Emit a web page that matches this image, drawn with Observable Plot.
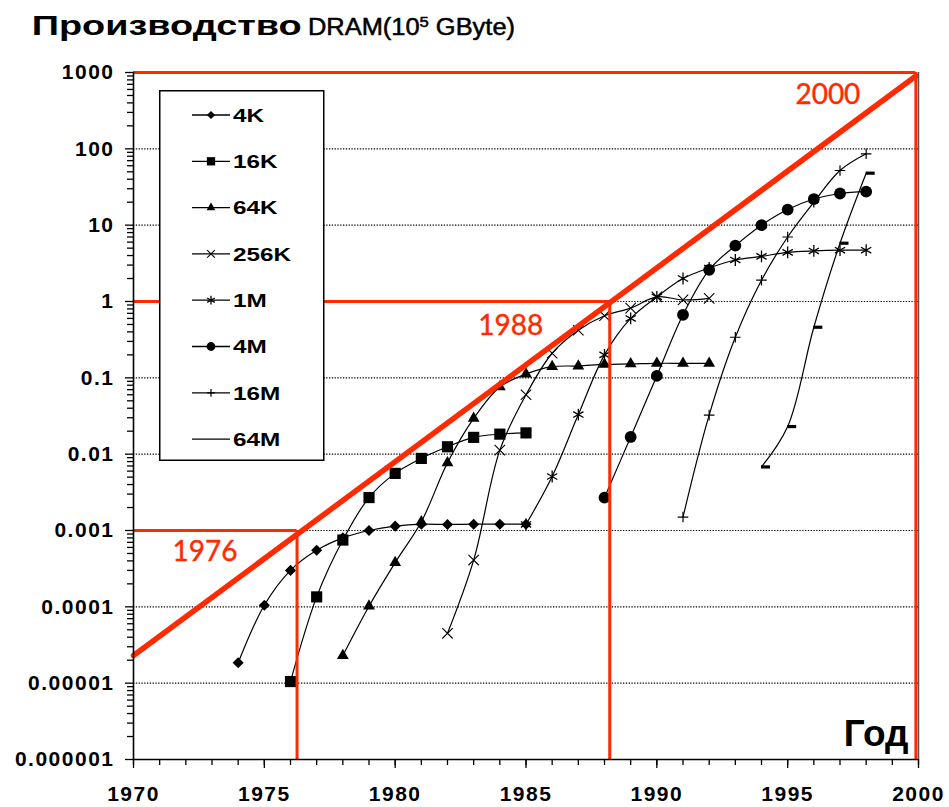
<!DOCTYPE html>
<html><head><meta charset="utf-8">
<script src="https://cdn.jsdelivr.net/npm/d3@7"></script>
<script src="https://cdn.jsdelivr.net/npm/@observablehq/plot@0.6"></script>
<style>
body{margin:0;background:#fff;}
#wrap{position:relative;width:949px;height:807px;overflow:hidden;background:#fff;}
#title{position:absolute;left:0;top:0;}
#chart{position:absolute;left:0;top:48px;}
#legend{position:absolute;left:159px;top:90px;}
#chart g[aria-label="x-axis tick label"], #chart g[aria-label="y-axis tick label"]{letter-spacing:1.5px;}
</style>
</head><body>
<div id="wrap">
<svg id="title" width="949" height="48"></svg>
<div id="chart"></div>
<svg id="legend" width="166" height="372"></svg>
</div>
<script>
// ---- data ----
const series = ["4K","16K","64K","256K","1M","4M","16M","64M"];
const years4K = [1974,1975,1976,1977,1978,1979,1980,1981,1982,1983,1984,1985];
const values4K = [1.85e-5,1.05e-4,3.0e-4,5.5e-4,8.0e-4,1.0e-3,1.14e-3,1.21e-3,1.2e-3,1.21e-3,1.21e-3,1.21e-3];
const years16K = [1976,1977,1978,1979,1980,1981,1982,1983,1984,1985];
const values16K = [1.05e-5,1.35e-4,7.5e-4,2.7e-3,5.6e-3,8.8e-3,0.0125,0.0166,0.0183,0.019];
const years64K = [1978,1979,1980,1981,1982,1983,1984,1985,1986,1987,1988,1989,1990,1991,1992];
const values64K = [2.3e-5,1.02e-4,3.8e-4,1.3e-3,7.7e-3,0.0294,0.076,0.112,0.14,0.143,0.15,0.152,0.155,0.155,0.155];
const years256K = [1982,1983,1984,1985,1986,1987,1988,1989,1990,1991,1992];
const values256K = [4.5e-5,4.1e-4,0.0113,0.06,0.21,0.42,0.65,0.82,1.15,1.05,1.1];
const years1M = [1985,1986,1987,1988,1989,1990,1991,1992,1993,1994,1995,1996,1997,1998];
const values1M = [1.2e-3,5.1e-3,0.033,0.2,0.6,1.15,2.0,2.75,3.5,3.9,4.4,4.6,4.7,4.7];
const years4M = [1988,1989,1990,1991,1992,1993,1994,1995,1996,1997,1998];
const values4M = [2.7e-3,0.0168,0.106,0.67,2.6,5.4,10,16,22,26,27.5];
const years16M = [1991,1992,1993,1994,1995,1996,1997,1998];
const values16M = [1.5e-3,0.0325,0.34,1.9,7.0,20,52,86];
const years64M = [1994,1995,1996,1997,1998];
const values64M = [6.8e-3,0.023,0.46,5.8,48];

const milestoneYears = [1976.25, 1988.2, 1999.9];
const milestoneValues = [0.001, 1, 1000];
const milestoneLabels = ["1976", "1988", "2000"];
const trendYears = [1970, 1999.9];
const trendValues = [2.3e-5, 900];

const yTickValues = [1e-6,1e-5,1e-4,1e-3,1e-2,1e-1,1,10,100,1000];
const yTickLabels = ["0.000001","0.00001","0.0001","0.001","0.01","0.1","1","10","100","1000"];
const xTickYears = d3.range(1970, 2001, 5);
const titleMain = "Производство";
const titleUnit = "DRAM(10";
const titleExp = "5";
const titleUnitEnd = " GByte)";
const xAxisTitle = "Год";

// ---- build table ----
const seriesYears = {"4K":years4K,"16K":years16K,"64K":years64K,"256K":years256K,"1M":years1M,"4M":years4M,"16M":years16M,"64M":years64M};
const seriesValues = {"4K":values4K,"16K":values16K,"64K":values64K,"256K":values256K,"1M":values1M,"4M":values4M,"16M":values16M,"64M":values64M};
const rows = [];
series.forEach(s => seriesYears[s].forEach((y, i) => rows.push({series: s, year: y, value: seriesValues[s][i]})));
const milestones = milestoneYears.map((y, i) => ({year: y, value: milestoneValues[i], label: milestoneLabels[i]}));
const trend = trendYears.map((y, i) => ({year: y, value: trendValues[i]}));

// ---- styles ----
const RED = "#ff2a00";
const dash = {draw(ctx, size) { ctx.moveTo(-0.5, -1.6); ctx.lineTo(8.5, -1.6); ctx.lineTo(8.5, 1.6); ctx.lineTo(-0.5, 1.6); ctx.closePath(); }};
const markerStyle = {
  "4K":  {symbol: "diamond2", r: 5.0, fill: "#000", stroke: "none"},
  "16K": {symbol: "square", r: 6.3, fill: "#000", stroke: "none"},
  "64K": {symbol: "triangle", r: 4.4, fill: "#000", stroke: "none"},
  "256K":{symbol: "times", r: 4.8, fill: "none", stroke: "#000", strokeWidth: 1.1},
  "1M":  {symbol: "asterisk", r: 5.6, fill: "none", stroke: "#000", strokeWidth: 1.3},
  "4M":  {symbol: "circle", r: 5.9, fill: "#000", stroke: "none"},
  "16M": {symbol: "plus", r: 3.5, fill: "none", stroke: "#000", strokeWidth: 1.2},
  "64M": {symbol: dash, r: 4, fill: "#000", stroke: "none"}
};
const legendSym = {"4K": d3.symbolDiamond2, "16K": d3.symbolSquare, "64K": d3.symbolTriangle, "256K": d3.symbolTimes, "1M": d3.symbolAsterisk, "4M": d3.symbolCircle, "16M": d3.symbolPlus, "64M": null};

const gridValues = yTickValues.slice(1, -1);
const yMinor = [];
yTickValues.slice(0, -1).forEach(d => { for (let k = 2; k <= 9; k++) yMinor.push(d * k); });
const labelOffsets = [[-92, 22], [-99, 25], [-88, 23]];

const dots = series.map(s => {
  const st = markerStyle[s];
  return Plot.dot(rows.filter(r => r.series === s), {x: "year", y: "value", symbol: st.symbol, r: st.r, fill: st.fill, stroke: st.stroke, strokeWidth: st.strokeWidth || 1});
});

const milestoneText = milestones.map((m, i) => Plot.text([m], {x: "year", y: "value", text: "label", dx: labelOffsets[i][0], dy: labelOffsets[i][1], fill: RED, stroke: RED, strokeWidth: 0.4, fontFamily: "Lato, 'Open Sans', sans-serif", fontSize: 28, textAnchor: "middle", lineAnchor: "middle"}));

const chart = Plot.plot({
  width: 949, height: 759,
  marginLeft: 133, marginRight: 31, marginTop: 24, marginBottom: 48,
  style: {fontFamily: "'Liberation Sans', Arial, sans-serif", background: "transparent", overflow: "visible"},
  x: {domain: [1970, 2000], axis: null},
  y: {type: "log", domain: [1e-6, 1000], axis: null},
  marks: [
    Plot.ruleY(gridValues, {stroke: "#000", strokeWidth: 1.1, strokeDasharray: "1.3,1.5"}),
    Plot.line(rows, {x: "year", y: "value", z: "series", curve: "catmull-rom", stroke: "#000", strokeWidth: 1.2}),
    ...dots,
    Plot.line(trend, {x: "year", y: "value", stroke: RED, strokeWidth: 5.5}),
    Plot.ruleX(milestones, {x: "year", y1: 1e-6, y2: "value", stroke: RED, strokeWidth: 3}),
    Plot.ruleY(milestones, {y: "value", x1: 1970, x2: "year", stroke: RED, strokeWidth: 3}),
    Plot.ruleX([2000], {stroke: "#555", strokeWidth: 1.5}),
    Plot.ruleX([1970], {stroke: "#000", strokeWidth: 1.6}),
    Plot.ruleY([1e-6], {stroke: "#000", strokeWidth: 1.6}),
    Plot.axisX({ticks: d3.range(1970, 2001), tickSize: 6, tickFormat: () => "", label: null, strokeWidth: 1.3}),
    Plot.axisX({ticks: xTickYears, tickSize: 9, tickPadding: 18, tickFormat: d => String(d), label: null, fontSize: 21, fontWeight: "bold", strokeWidth: 1.3}),
    Plot.axisY({ticks: yMinor, tickSize: 6, tickFormat: () => "", label: null, strokeWidth: 1.3}),
    Plot.axisY({ticks: yTickValues, tickSize: 8, tickPadding: 11, tickFormat: d => yTickLabels[yTickValues.indexOf(d)], label: null, fontSize: 21, fontWeight: "bold", strokeWidth: 1.3}),
    ...milestoneText,
    Plot.text([xAxisTitle], {frameAnchor: "bottom-right", dx: -10, dy: -14, textAnchor: "end", lineAnchor: "bottom", fontSize: 37, fontWeight: "bold", fill: "#000"})
  ]
});
document.getElementById("chart").appendChild(chart);

// ---- title ----
const ts = d3.select("#title");
ts.append("text").attr("x", 31.7).attr("y", 35).attr("font-family", "'Liberation Sans', Arial, sans-serif").attr("font-weight", "bold").attr("font-size", 28)
  .attr("textLength", 270).attr("lengthAdjust", "spacingAndGlyphs").text(titleMain);
const t2 = ts.append("text").attr("x", 308).attr("y", 35).attr("font-family", "'Liberation Sans', Arial, sans-serif").attr("font-size", 23)
  .attr("stroke", "#000").attr("stroke-width", 0.5)
  .attr("textLength", 207).attr("lengthAdjust", "spacingAndGlyphs");
t2.append("tspan").text(titleUnit);
t2.append("tspan").attr("dy", -8).attr("font-size", 15).text(titleExp);
t2.append("tspan").attr("dy", 8).text(titleUnitEnd);

// ---- legend ----
const lg = d3.select("#legend");
lg.append("rect").attr("x", 0.75).attr("y", 0.75).attr("width", 164).attr("height", 369.5).attr("fill", "#fff").attr("stroke", "#000").attr("stroke-width", 1.5);
series.forEach((s, i) => {
  const cy = 25 + i * 46.3;
  const g = lg.append("g");
  g.append("line").attr("x1", 33).attr("x2", 71).attr("y1", cy).attr("y2", cy).attr("stroke", "#000").attr("stroke-width", 1.3);
  const st = markerStyle[s];
  if (legendSym[s]) {
    const size = Math.PI * st.r * st.r * 0.55;
    g.append("path").attr("transform", `translate(52,${cy})`).attr("d", d3.symbol(legendSym[s], size)())
      .attr("fill", st.fill).attr("stroke", st.stroke).attr("stroke-width", st.strokeWidth || 1);
  }
  const t = g.append("text").attr("x", 74).attr("y", cy + 6.7).attr("font-family", "'Liberation Sans', Arial, sans-serif").attr("font-weight", "bold").attr("font-size", 19).text(s);
  const w = t.node().getComputedTextLength();
  t.attr("textLength", w * 1.28).attr("lengthAdjust", "spacingAndGlyphs");
});
</script>
</body></html>
